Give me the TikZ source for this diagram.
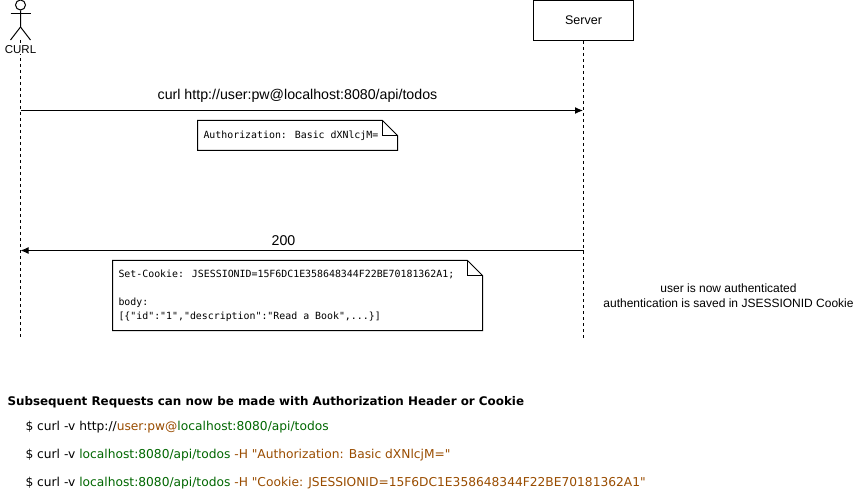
\documentclass[tikz,border=0pt]{standalone}
\usepackage{xcolor}
\usepackage{fontspec}
\setmainfont{Liberation Sans}
\newfontfamily\notefont{DejaVu Sans Mono}
\newfontfamily\cmdfont{DejaVu Sans}
\usetikzlibrary{arrows.meta}
\definecolor{cmdgreen}{RGB}{0,102,0}
\definecolor{cmdbrown}{RGB}{153,76,0}
\newcommand{\green}[1]{{\color{cmdgreen}#1}}
\newcommand{\brown}[1]{{\color{cmdbrown}#1}}

\begin{document}
\begin{tikzpicture}[x=1pt,y=-1pt,line width=1pt]
	\tikzset{msgtext/.style = {font=\fontsize{12}{15}\selectfont,inner sep=0pt}}
	\tikzset{bigtext/.style = {font=\fontsize{14.2}{16}\selectfont,inner sep=0pt}}
	\tikzset{lifeline/.style = {draw,dash pattern=on 3pt off 3pt}}
	\tikzset{message/.style = {draw,-{Latex[length=8pt,width=7pt]}}}
	\tikzset{note/.style = {inner sep=0pt,font=\notefont\fontsize{9.9}{14.3}\selectfont,align=left,anchor=north west}}
	\tikzset{command/.style = {inner sep=0pt,anchor=base west,font=\cmdfont\fontsize{12.25}{14}\selectfont}}

	\useasboundingbox (0,0) rectangle (864,494);

	% participants
	\node[draw,circle,minimum size=10pt,inner sep=0pt] (head) at (20.5,5) {};
	\coordinate (arml) at (10.5,14);
	\coordinate (armr) at (30.5,14);
	\coordinate (hip) at (20.5,27);
	\coordinate (legl) at (10.5,40);
	\coordinate (legr) at (30.5,40);
	\node[draw,minimum width=100pt,minimum height=40pt,inner sep=0pt,font=\fontsize{12.5}{15}\selectfont] (server) at (583.5,20.5) {Server};

	\draw (head) -- (hip) -- (legl);
	\draw (hip) -- (legr);
	\draw (arml) -- (armr);

	% lifelines
	\coordinate (curl0) at (20.5,40);
	\coordinate (curl1) at (20.5,338);
	\coordinate (server1) at (583.5,338);
	\draw[lifeline] (curl0) -- (curl1);
	\draw[lifeline] (server) -- (server1);
	\node[fill=white,font=\fontsize{11.5}{14}\selectfont,inner sep=0pt] (curl) at (20.5,50) {CURL};

	% messages
	\coordinate (req0) at (20.5,110.5);
	\coordinate (req1) at (583,110.5);
	\coordinate (res0) at (583.5,250.5);
	\coordinate (res1) at (20.5,250.5);
	\draw[message] (req0) -- (req1);
	\draw[message] (res0) -- (res1);
	\node[bigtext] (reqtext) at (297.5,95.5) {curl http://user:pw@localhost:8080/api/todos};
	\node[bigtext] (restext) at (283.5,241) {200};

	% notes
	\node[note] (auth) at (203,130.5) {Authorization: Basic dXNlcjM=};
	\node[note] (cookie) at (118,269) {Set-Cookie: JSESSIONID=15F6DC1E358648344F22BE70181362A1;\\[14.3pt]body:\\{[}\{"id":"1","description":"Read a Book",...\}{]}};
	\coordinate (a0) at (197.5,120.5);
	\coordinate (a1) at (382.5,120.5);
	\coordinate (a2) at (397.5,135.5);
	\coordinate (a3) at (397.5,150.5);
	\coordinate (a4) at (197.5,150.5);
	\coordinate (a5) at (382.5,135.5);
	\draw (a0) -- (a1) -- (a2) -- (a3) -- (a4) -- cycle;
	\draw (a1) -- (a5) -- (a2);
	\coordinate (c0) at (112.5,260.5);
	\coordinate (c1) at (467.5,260.5);
	\coordinate (c2) at (482.5,275.5);
	\coordinate (c3) at (482.5,330.5);
	\coordinate (c4) at (112.5,330.5);
	\coordinate (c5) at (467.5,275.5);
	\draw (c0) -- (c1) -- (c2) -- (c3) -- (c4) -- cycle;
	\draw (c1) -- (c5) -- (c2);

	\node[msgtext,align=center] (status) at (728.5,296) {user is now authenticated\\authentication is saved in JSESSIONID Cookie};

	% commands
	\node[command,font=\cmdfont\bfseries\fontsize{11.9}{14}\selectfont] (title) at (7,405) {Subsequent Requests can now be made with Authorization Header or Cookie};
	\node[command] (cmda) at (25,430.5) {\$ curl -v http://\brown{user:pw@}\green{localhost:8080/api/todos}};
	\node[command] (cmdb) at (25,458.5) {\$ curl -v \green{localhost:8080/api/todos} \brown{-H "Authorization: Basic dXNlcjM="}};
	\node[command] (cmdc) at (25,486) {\$ curl -v \green{localhost:8080/api/todos} \brown{-H "Cookie: JSESSIONID=15F6DC1E358648344F22BE70181362A1"}};
\end{tikzpicture}
\end{document}
